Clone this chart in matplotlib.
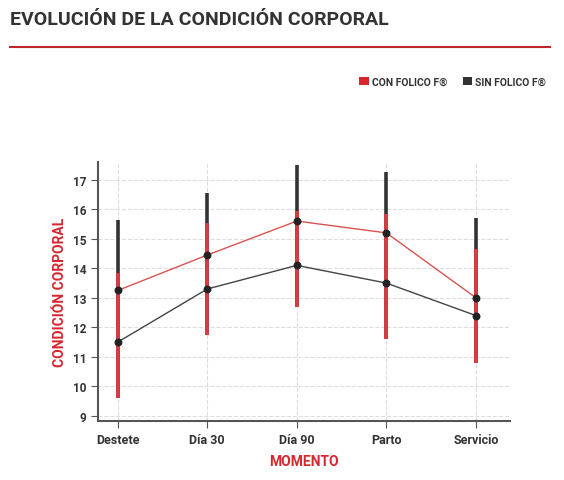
import matplotlib
matplotlib.use("Agg")
import matplotlib.pyplot as plt
from matplotlib.lines import Line2D
from matplotlib.patches import Patch

categories = ["Destete", "Día 30", "Día 90", "Parto", "Servicio"]
con_folico = [13.25, 14.45, 15.6, 15.2, 13.0]
sin_folico = [11.5, 13.3, 14.1, 13.5, 12.4]
red_low = [9.6, 11.75, 12.7, 11.6, 10.8]
red_high = [13.85, 15.55, 15.95, 15.85, 14.65]
black_high = [15.65, 16.55, 17.5, 17.25, 15.7]
yticks = [9, 10, 11, 12, 13, 14, 15, 16, 17]

RED = "#d7262e"
DARK = "#333333"
plt.rcParams['font.family'] = ['Roboto', 'DejaVu Sans']

fig = plt.figure(figsize=(5.64, 4.81), dpi=100)
fig.text(0.018, 0.958, "EVOLUCIÓN DE LA CONDICIÓN CORPORAL", fontsize=14,
         fontweight='bold', color='#333333', va='center')
fig.add_artist(Line2D([0.018, 0.975], [0.9, 0.9], color='#c0272d', lw=1.5))

ax = fig.add_axes([98/564, 1-422/481, 412/564, 259/481])
x = list(range(len(categories)))
ax.vlines(x, red_low, black_high, color=DARK, lw=2.6, zorder=2)
ax.vlines(x, red_low, red_high, color='#dc3a40', lw=2.6, zorder=3)
ax.plot(x, con_folico, color='#d9534f', lw=1, zorder=4)
ax.plot(x, sin_folico, color='#444444', lw=1, zorder=4)
ax.scatter(x, con_folico, color='#222222', s=22, zorder=5)
ax.scatter(x, sin_folico, color='#222222', s=22, zorder=5)

ax.set_xlim(-0.22, 4.38)
ax.set_ylim(8.83, 17.6)
ax.set_yticks(yticks)
ax.set_xticks(x)
ax.set_xticklabels(categories, fontsize=9, fontweight='bold', color='#333333')
ax.tick_params(axis='y', labelsize=8.5, labelcolor='#333333', length=5, color='#555555')
for t in ax.get_yticklabels():
    t.set_fontweight('bold')
ax.tick_params(axis='x', length=5, color='#555555')
ax.grid(True, color='#dddddd', ls='--', lw=0.8)
ax.set_axisbelow(True)
for s in ['top', 'right']:
    ax.spines[s].set_visible(False)
for s in ['left', 'bottom']:
    ax.spines[s].set_color('#555555')
    ax.spines[s].set_linewidth(1.5)
ax.set_ylabel("CONDICIÓN CORPORAL", color=RED, fontsize=10, fontweight='bold')
ax.set_xlabel("MOMENTO", color=RED, fontsize=10, fontweight='bold', labelpad=6)

handles = [Patch(facecolor=RED, label="CON FOLICO F®"),
           Patch(facecolor=DARK, label="SIN FOLICO F®")]
leg = fig.legend(handles=handles, loc='center right', bbox_to_anchor=(0.985, 0.828),
                 ncol=2, frameon=False, fontsize=7.5, handlelength=0.9, handleheight=0.9,
                 handletextpad=0.3, columnspacing=1.5)
for t in leg.get_texts():
    t.set_fontweight('bold'); t.set_color('#333333')

fig.savefig("out.png", dpi=100, facecolor='white')
